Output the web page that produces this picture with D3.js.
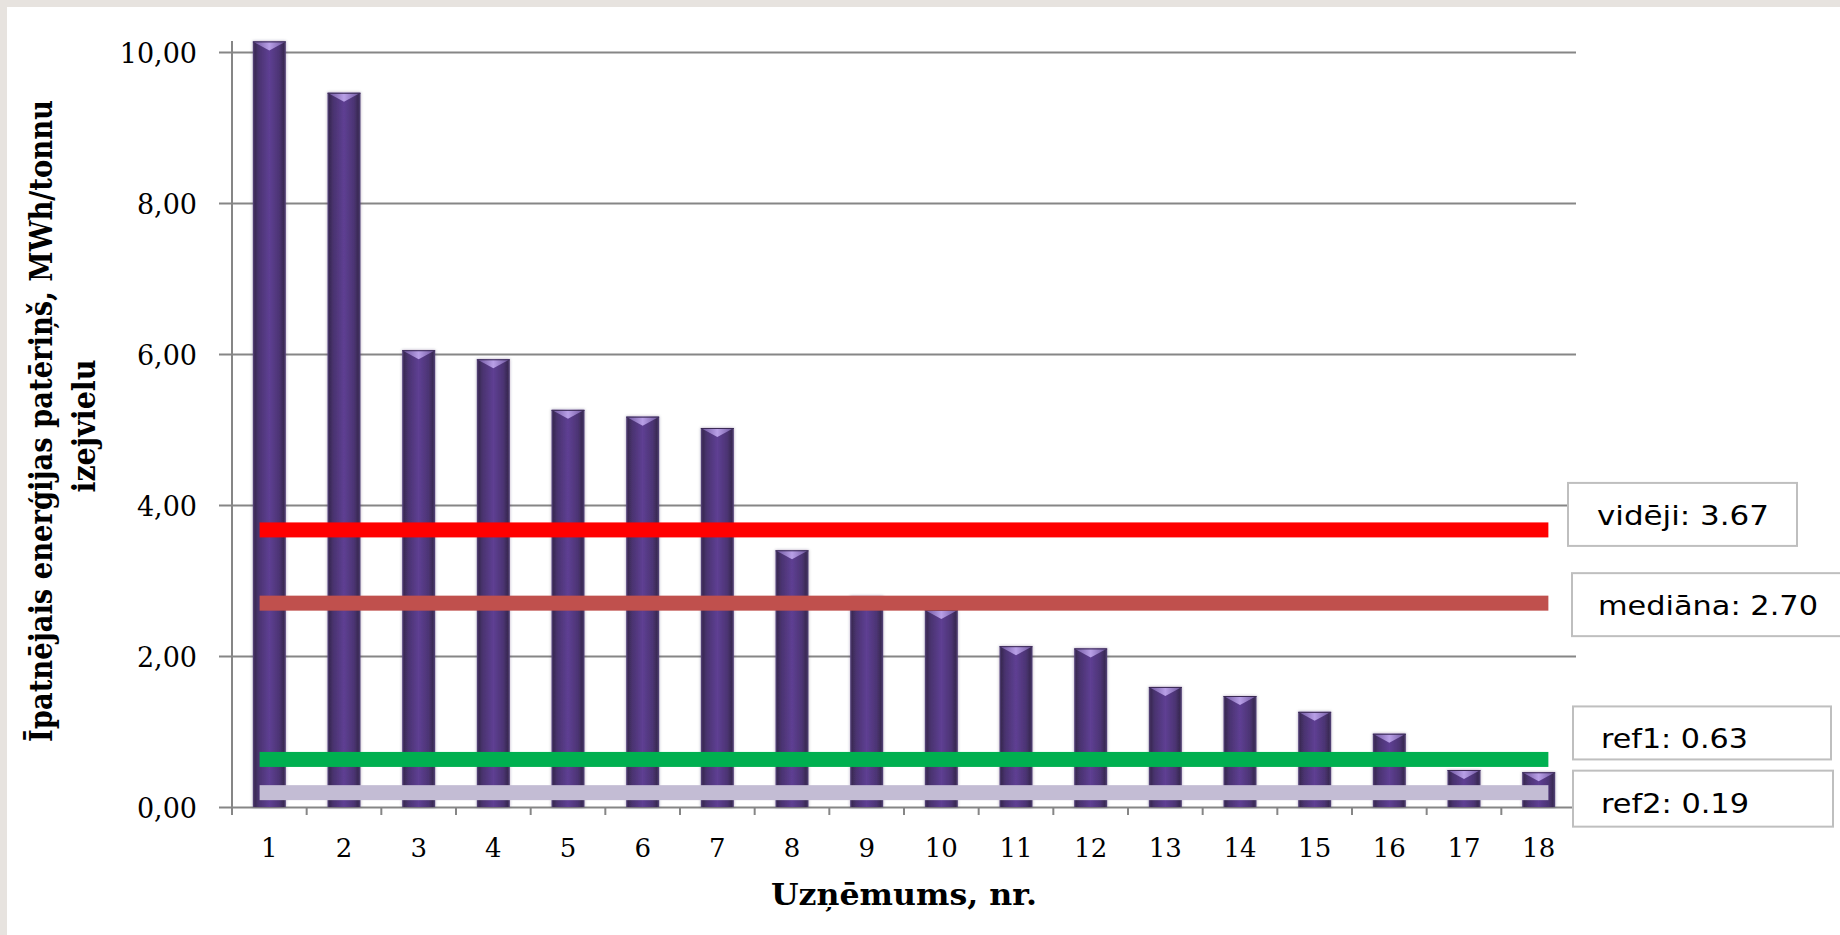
<!DOCTYPE html>
<html lang="lv">
<head>
<meta charset="utf-8">
<script src="https://cdn.jsdelivr.net/npm/d3@7"></script>
<style>
  html, body { margin: 0; padding: 0; background: #ffffff; }
  svg { display: block; }
</style>
</head>
<body>
<script>
// Company numbers on the x axis
const categories = ["1","2","3","4","5","6","7","8","9","10","11","12","13","14","15","16","17","18"];
// Specific energy consumption, MWh per tonne of raw material
const values = [10.14, 9.46, 6.05, 5.93, 5.26, 5.17, 5.02, 3.40, 2.79, 2.61, 2.13, 2.10, 1.59, 1.47, 1.26, 0.97, 0.49, 0.46];
// Reference levels drawn across the bars
const refNames = ["vidēji", "mediāna", "ref1", "ref2"];
const refValues = [3.67, 2.70, 0.63, 0.19];
// Y axis ticks and their labels
const yTicks = [0, 2, 4, 6, 8, 10];
const yTickLabels = ["0,00", "2,00", "4,00", "6,00", "8,00", "10,00"];
// Titles
const yTitleLines = ["Īpatnējais enerģijas patēriņš, MWh/tonnu", "izejvielu"];
const xTitle = "Uzņēmums, nr.";

// Styling for the reference lines and their label boxes
const refColors = ["#ff0000", "#c0504d", "#00b050", "#c3bcd4"];
const refBoxes = [
  { dy: -47, h: 63, x0: 1568, x1: 1797, tx: 29, tw: 172 },
  { dy: -30, h: 63, x0: 1572, x1: 1850, tx: 26, tw: 220 },
  { dy: -53, h: 53, x0: 1573, x1: 1831, tx: 28, tw: 147 },
  { dy: -22, h: 56, x0: 1573, x1: 1833, tx: 28, tw: 148 }
];

const W = 1840, H = 935;
const plot = { left: 232, right: 1576, top: 41, zero: 807, ten: 52 };

const svg = d3.select("body").append("svg").attr("width", W).attr("height", H);

// page frame
svg.append("rect").attr("x", 0).attr("y", 0).attr("width", W).attr("height", H).attr("fill", "#ffffff");
svg.append("rect").attr("x", 0).attr("y", 0).attr("width", W).attr("height", 7).attr("fill", "#e7e3df");
svg.append("rect").attr("x", 0).attr("y", 0).attr("width", 7).attr("height", H).attr("fill", "#e7e3df");

const defs = svg.append("defs");
const bodyGrad = defs.append("linearGradient").attr("id", "barBody").attr("x1", "0").attr("x2", "1").attr("y1", "0").attr("y2", "0");
[["0%", "#5a4680"], ["6%", "#3a2a55"], ["18%", "#4a3370"], ["50%", "#5e3f93"], ["80%", "#4c3474"], ["93%", "#3a2a55"], ["100%", "#56447a"]]
  .forEach(([o, c]) => bodyGrad.append("stop").attr("offset", o).attr("stop-color", c));
const capGrad = defs.append("linearGradient").attr("id", "barCap").attr("x1", "0").attr("x2", "1").attr("y1", "0").attr("y2", "0");
[["0%", "#6f55a0"], ["50%", "#c2aaf0"], ["100%", "#6f55a0"]]
  .forEach(([o, c]) => capGrad.append("stop").attr("offset", o).attr("stop-color", c));
const glow = defs.append("filter").attr("id", "barGlow").attr("x", "-30%").attr("y", "-5%").attr("width", "160%").attr("height", "110%");
glow.append("feDropShadow").attr("dx", 0).attr("dy", 0).attr("stdDeviation", 1.6).attr("flood-color", "#2a1a45").attr("flood-opacity", 0.35);

// scales
const x = d3.scaleBand().domain(categories).range([plot.left, plot.right]).paddingInner(0.558).paddingOuter(0.279);
const y = d3.scaleLinear().domain([0, 10]).range([plot.zero, plot.ten]);
const step = x.step();

// horizontal gridlines and y tick labels
const yAxis = d3.axisLeft(y)
  .tickValues(yTicks)
  .tickFormat((d, i) => yTickLabels[i])
  .tickSize(-(plot.right - (plot.left - 13)))
  .tickPadding(22);
const gy = svg.append("g").attr("transform", `translate(${plot.left - 13},0)`).call(yAxis);
gy.select(".domain").remove();
gy.selectAll(".tick line").attr("stroke", "#868686").attr("stroke-width", 2);
gy.selectAll(".tick text")
  .attr("dy", 10)
  .attr("fill", "#000")
  .style("font-family", "'DejaVu Serif', serif")
  .style("font-size", "27px");

// bars
const bars = svg.append("g").selectAll("g.bar").data(values).join("g").attr("class", "bar").attr("filter", "url(#barGlow)");
bars.append("rect")
  .attr("x", (d, i) => x(categories[i]))
  .attr("y", d => y(d))
  .attr("width", x.bandwidth())
  .attr("height", d => y(0) - y(d))
  .attr("fill", "url(#barBody)");
bars.append("path")
  .attr("d", (d, i) => {
    const x0 = x(categories[i]), bw = x.bandwidth(), t = y(d);
    return `M${x0},${t} L${x0 + bw},${t} L${x0 + bw * 0.5},${t + 9} Z`;
  })
  .attr("fill", "url(#barCap)")
  .attr("opacity", 0.9);
bars.append("line")
  .attr("x1", (d, i) => x(categories[i]))
  .attr("x2", (d, i) => x(categories[i]) + x.bandwidth())
  .attr("y1", d => y(d) + 0.5)
  .attr("y2", d => y(d) + 0.5)
  .attr("stroke", "#3a2a55").attr("stroke-width", 1);

// axes lines and category tick marks
svg.append("line")
  .attr("x1", plot.left).attr("x2", plot.left)
  .attr("y1", plot.top).attr("y2", plot.zero + 8)
  .attr("stroke", "#868686").attr("stroke-width", 2);
svg.append("g").selectAll("line").data(d3.range(categories.length + 1)).join("line")
  .attr("x1", k => plot.left + k * step).attr("x2", k => plot.left + k * step)
  .attr("y1", plot.zero).attr("y2", plot.zero + 8)
  .attr("stroke", "#868686").attr("stroke-width", 2);

const xAxis = d3.axisBottom(x).tickSize(0).tickPadding(0);
const gx = svg.append("g").attr("transform", `translate(0,${plot.zero})`).call(xAxis);
gx.select(".domain").remove();
gx.selectAll(".tick text")
  .attr("y", 50).attr("dy", null)
  .attr("fill", "#000")
  .style("font-family", "'DejaVu Serif', serif")
  .style("font-size", "26px");

// reference lines
const lineStart = plot.left + 0.37 * step;
const lineEnd = plot.left + 17.63 * step;
svg.append("g").selectAll("rect").data(refValues).join("rect")
  .attr("x", lineStart)
  .attr("y", d => y(d) - 7.5)
  .attr("width", lineEnd - lineStart)
  .attr("height", 15)
  .attr("fill", (d, i) => refColors[i]);

// reference labels
const lab = svg.append("g").selectAll("g").data(refValues).join("g");
lab.append("rect")
  .attr("x", (d, i) => refBoxes[i].x0)
  .attr("y", (d, i) => y(d) + refBoxes[i].dy)
  .attr("width", (d, i) => refBoxes[i].x1 - refBoxes[i].x0)
  .attr("height", (d, i) => refBoxes[i].h)
  .attr("fill", "#ffffff")
  .attr("stroke", "#bfbfbf").attr("stroke-width", 2);
lab.append("text")
  .attr("x", (d, i) => refBoxes[i].x0 + refBoxes[i].tx)
  .attr("y", (d, i) => y(d) + refBoxes[i].dy + 42)
  .attr("textLength", (d, i) => refBoxes[i].tw)
  .attr("lengthAdjust", "spacingAndGlyphs")
  .style("font-family", "'DejaVu Sans', sans-serif")
  .style("font-size", "27px")
  .attr("fill", "#000")
  .text((d, i) => `${refNames[i]}: ${d.toFixed(2)}`);

// axis titles
svg.append("text")
  .attr("x", (plot.left + plot.right) / 2)
  .attr("y", 905)
  .attr("text-anchor", "middle")
  .attr("textLength", 266)
  .attr("lengthAdjust", "spacingAndGlyphs")
  .style("font-family", "'DejaVu Serif', serif")
  .style("font-weight", "bold")
  .style("font-size", "29px")
  .attr("fill", "#000")
  .text(xTitle);

const yTitlePos = [{ bx: 52, cy: 421, len: 642 }, { bx: 95, cy: 426, len: 133 }];
svg.append("g").selectAll("text").data(yTitleLines).join("text")
  .attr("transform", (d, i) => `translate(${yTitlePos[i].bx},${yTitlePos[i].cy}) scale(1.2,1) rotate(-90)`)
  .attr("text-anchor", "middle")
  .attr("textLength", (d, i) => yTitlePos[i].len)
  .attr("lengthAdjust", "spacingAndGlyphs")
  .style("font-family", "'DejaVu Serif', serif")
  .style("font-weight", "bold")
  .style("font-size", "27px")
  .attr("fill", "#000")
  .text(d => d);
</script>
</body>
</html>
